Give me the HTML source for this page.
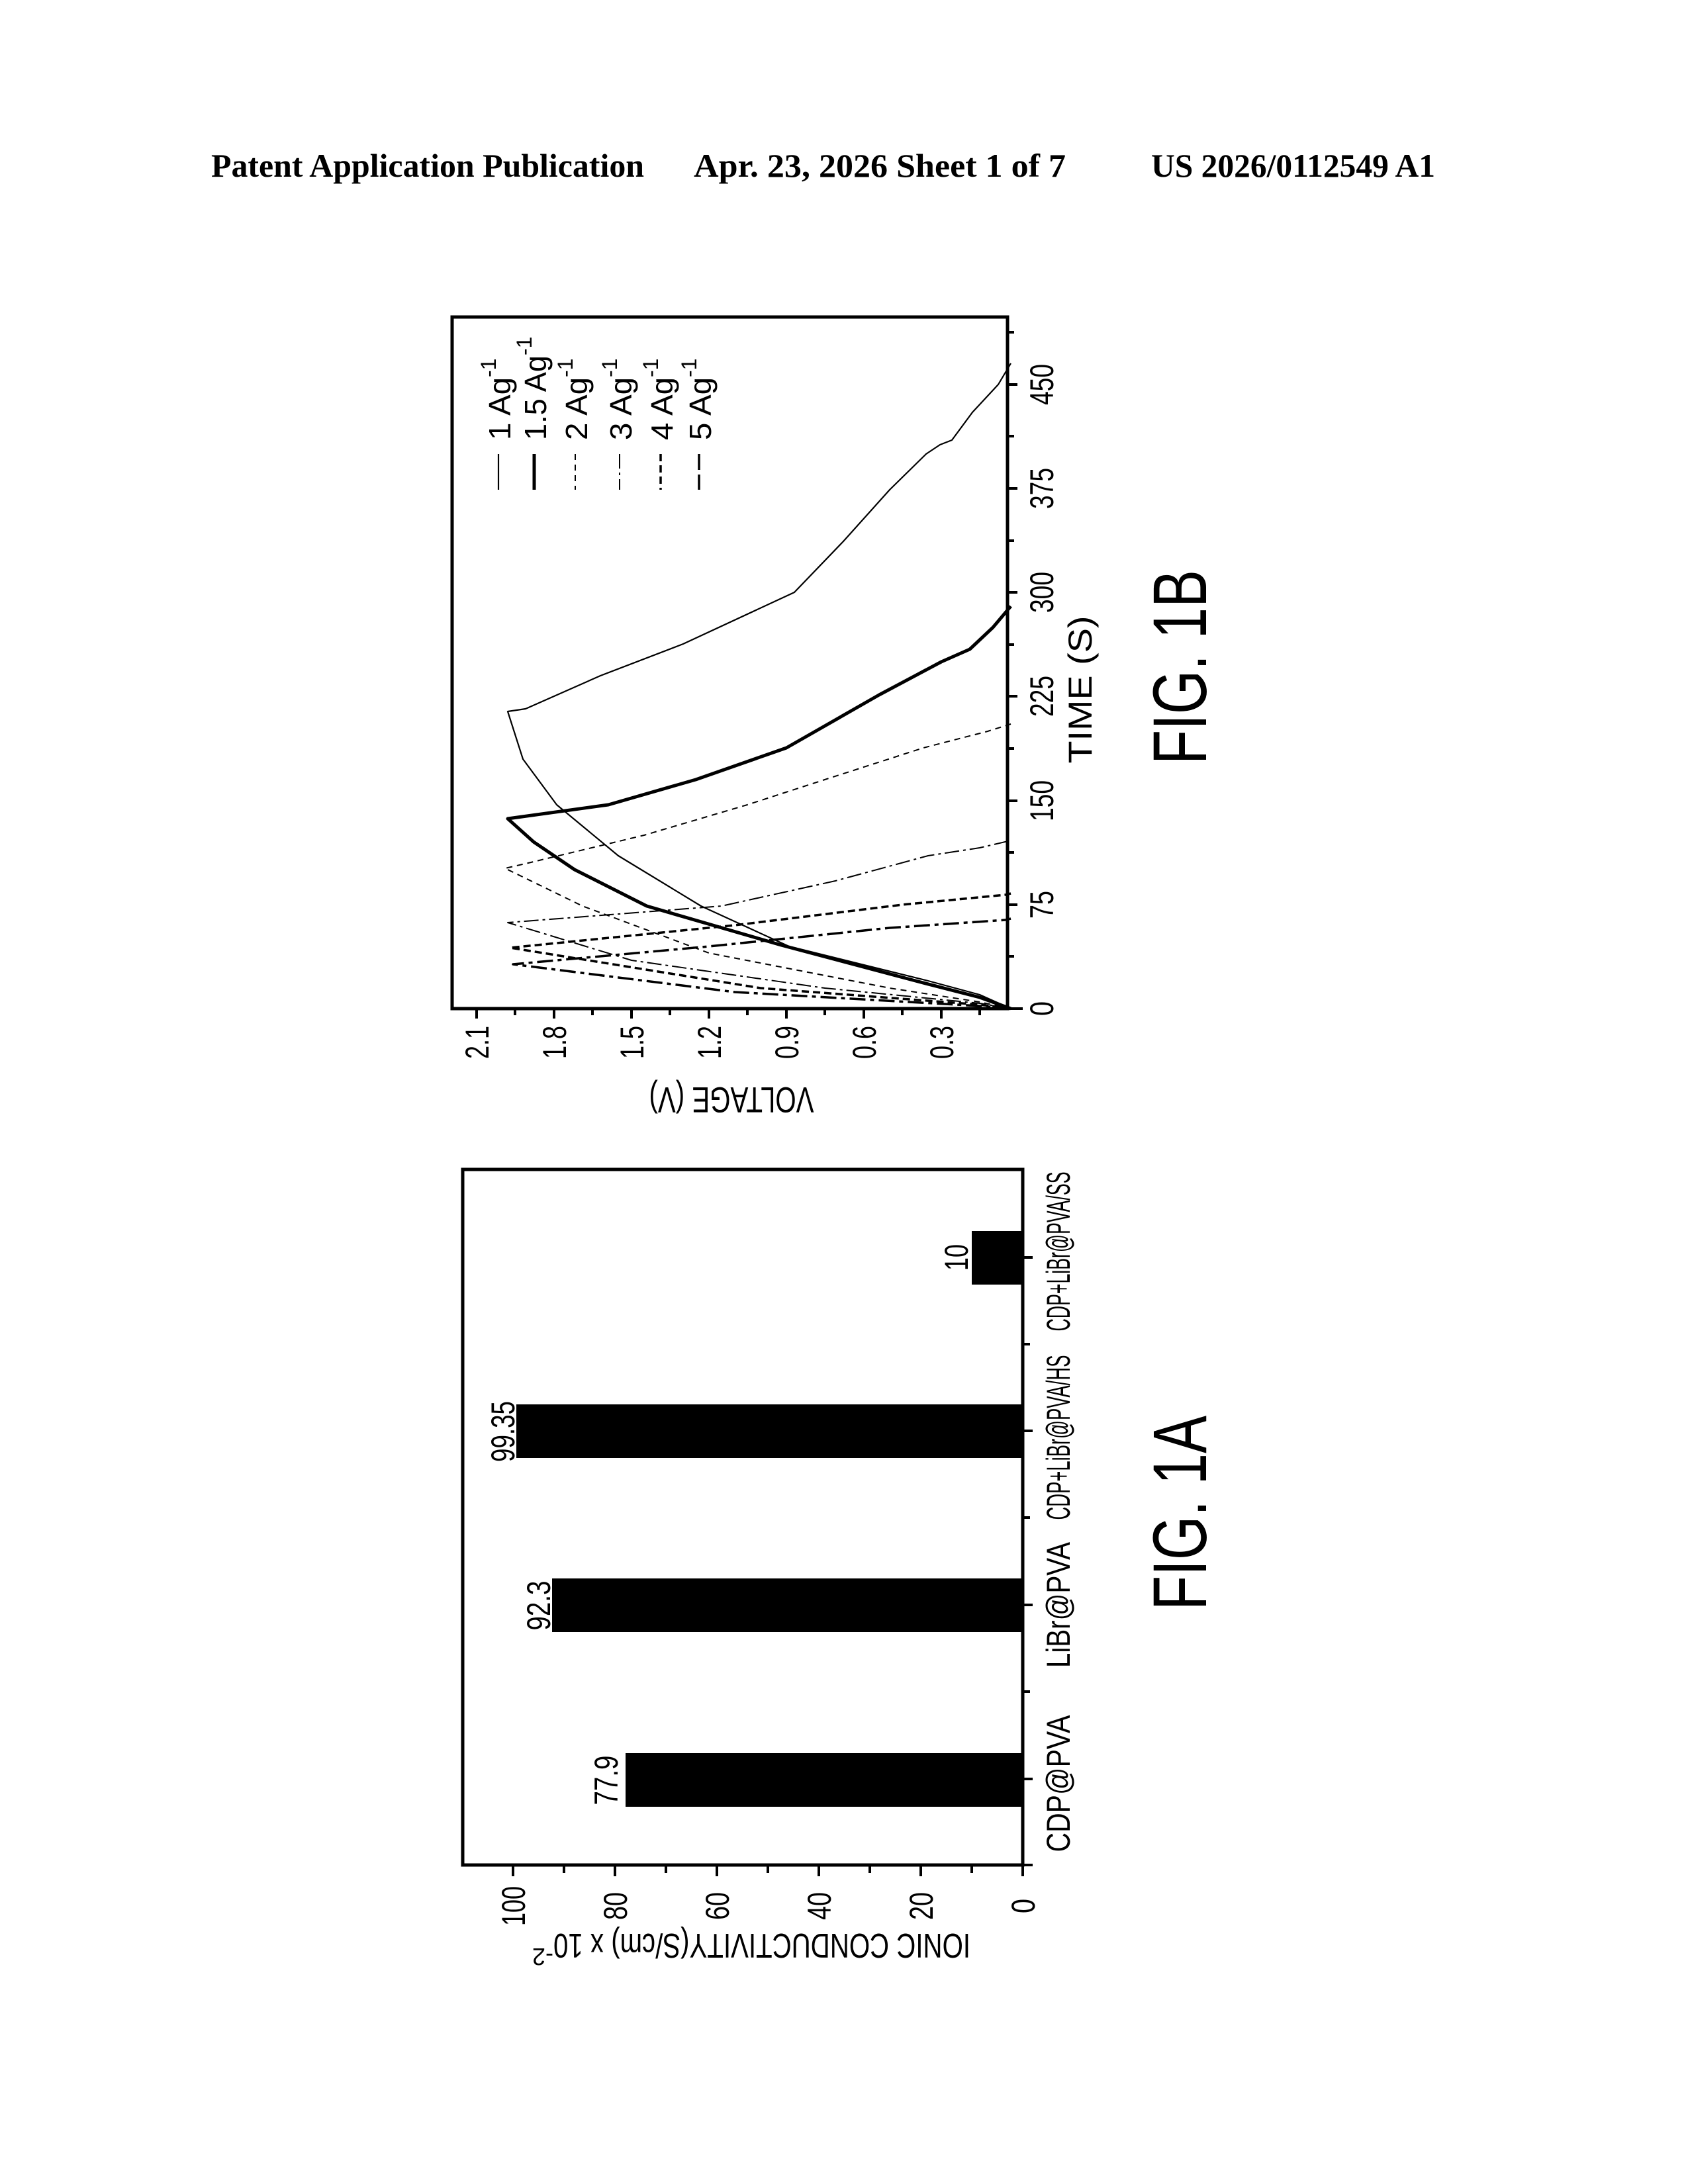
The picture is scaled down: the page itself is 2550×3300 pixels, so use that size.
<!DOCTYPE html>
<html><head><meta charset="utf-8"><style>
html,body{margin:0;padding:0;background:#fff;}
svg{display:block;}
text{font-family:"Liberation Sans",Arial,sans-serif;fill:#000;}
.hd{font-family:"Liberation Serif","Times New Roman",serif;font-weight:bold;font-size:50px;}
</style></head><body>
<svg width="2550" height="3300" viewBox="0 0 2550 3300" xmlns="http://www.w3.org/2000/svg">
<rect width="2550" height="3300" fill="#fff"/>
<!-- header -->
<text class="hd" x="319" y="267" textLength="654" lengthAdjust="spacingAndGlyphs">Patent Application Publication</text>
<text class="hd" x="1048" y="267" textLength="562" lengthAdjust="spacingAndGlyphs">Apr. 23, 2026  Sheet 1 of 7</text>
<text class="hd" x="1739" y="267" textLength="429" lengthAdjust="spacingAndGlyphs">US 2026/0112549 A1</text>

<!-- ================= FIG 1B ================= -->
<rect x="683" y="479" width="839" height="1045" fill="none" stroke="#000" stroke-width="5"/>
<g stroke="#000" stroke-width="4">
<!-- time ticks (major) -->
<line x1="1522" y1="1524" x2="1537" y2="1524"/>
<line x1="1522" y1="1367" x2="1537" y2="1367"/>
<line x1="1522" y1="1210" x2="1537" y2="1210"/>
<line x1="1522" y1="1052" x2="1537" y2="1052"/>
<line x1="1522" y1="895" x2="1537" y2="895"/>
<line x1="1522" y1="738" x2="1537" y2="738"/>
<line x1="1522" y1="581" x2="1537" y2="581"/>
<!-- minor -->
<line x1="1522" y1="1445" x2="1532" y2="1445"/>
<line x1="1522" y1="1288" x2="1532" y2="1288"/>
<line x1="1522" y1="1131" x2="1532" y2="1131"/>
<line x1="1522" y1="974" x2="1532" y2="974"/>
<line x1="1522" y1="817" x2="1532" y2="817"/>
<line x1="1522" y1="659" x2="1532" y2="659"/>
<line x1="1522" y1="502" x2="1532" y2="502"/>
<!-- voltage ticks major -->
<line x1="1422" y1="1524" x2="1422" y2="1539"/>
<line x1="1305" y1="1524" x2="1305" y2="1539"/>
<line x1="1188" y1="1524" x2="1188" y2="1539"/>
<line x1="1071" y1="1524" x2="1071" y2="1539"/>
<line x1="954" y1="1524" x2="954" y2="1539"/>
<line x1="837" y1="1524" x2="837" y2="1539"/>
<line x1="720" y1="1524" x2="720" y2="1539"/>
<!-- minor -->
<line x1="1480" y1="1524" x2="1480" y2="1534"/>
<line x1="1363" y1="1524" x2="1363" y2="1534"/>
<line x1="1246" y1="1524" x2="1246" y2="1534"/>
<line x1="1129" y1="1524" x2="1129" y2="1534"/>
<line x1="1012" y1="1524" x2="1012" y2="1534"/>
<line x1="895" y1="1524" x2="895" y2="1534"/>
<line x1="778" y1="1524" x2="778" y2="1534"/>
</g>
<line x1="1522" y1="1524" x2="1545" y2="1524" stroke="#000" stroke-width="4"/>
<g font-size="50" text-anchor="middle">
<text transform="translate(1591,1524) rotate(-90)" textLength="22" lengthAdjust="spacingAndGlyphs">0</text>
<text transform="translate(1591,1367) rotate(-90)" textLength="42" lengthAdjust="spacingAndGlyphs">75</text>
<text transform="translate(1591,1210) rotate(-90)" textLength="62" lengthAdjust="spacingAndGlyphs">150</text>
<text transform="translate(1591,1052) rotate(-90)" textLength="62" lengthAdjust="spacingAndGlyphs">225</text>
<text transform="translate(1591,895) rotate(-90)" textLength="62" lengthAdjust="spacingAndGlyphs">300</text>
<text transform="translate(1591,738) rotate(-90)" textLength="62" lengthAdjust="spacingAndGlyphs">375</text>
<text transform="translate(1591,581) rotate(-90)" textLength="62" lengthAdjust="spacingAndGlyphs">450</text>
<text transform="translate(1440,1575) rotate(-90)" textLength="50" lengthAdjust="spacingAndGlyphs">0.3</text>
<text transform="translate(1323,1575) rotate(-90)" textLength="50" lengthAdjust="spacingAndGlyphs">0.6</text>
<text transform="translate(1206,1575) rotate(-90)" textLength="50" lengthAdjust="spacingAndGlyphs">0.9</text>
<text transform="translate(1089,1575) rotate(-90)" textLength="50" lengthAdjust="spacingAndGlyphs">1.2</text>
<text transform="translate(972,1575) rotate(-90)" textLength="50" lengthAdjust="spacingAndGlyphs">1.5</text>
<text transform="translate(855,1575) rotate(-90)" textLength="50" lengthAdjust="spacingAndGlyphs">1.8</text>
<text transform="translate(738,1575) rotate(-90)" textLength="50" lengthAdjust="spacingAndGlyphs">2.1</text>
<text transform="translate(1649,1042) rotate(-90)" textLength="223" lengthAdjust="spacingAndGlyphs">TIME (S)</text>
<text transform="translate(1105,1643) rotate(180)" font-size="55" textLength="249" lengthAdjust="spacingAndGlyphs">VOLTAGE (V)</text>
<text transform="translate(1822,1008) rotate(-90)" font-size="115" textLength="294" lengthAdjust="spacingAndGlyphs">FIG. 1B</text>
</g>
<!-- curves -->
<g fill="none" stroke="#000" stroke-linejoin="round" stroke-linecap="butt">
<!-- 1 A/g -->
<polyline stroke-width="2.2" points="1527,1524 1480,1503 1402,1482 1192,1430 1059,1369 934,1293 841,1216 790,1147 767,1075 794,1071 907,1021 1032,973 1200,895 1274,818 1344,740 1399,686 1420,672 1438,665 1469,623 1508,581 1527,549"/>
<!-- 1.5 A/g -->
<polyline stroke-width="5" points="1527,1524 1480,1507 1383,1482 1180,1428 977,1369 868,1314 806,1272 767,1237 919,1216 1051,1178 1188,1130 1328,1050 1422,1000 1465,981 1500,948 1527,916"/>
<!-- 2 A/g -->
<polyline stroke-width="2" stroke-dasharray="9 7" points="1527,1524 1480,1514 1344,1493 1071,1440 880,1369 763,1312 798,1304 973,1262 1129,1216 1246,1178 1395,1130 1492,1105 1527,1094"/>
<!-- 3 A/g -->
<polyline stroke-width="2" stroke-dasharray="22 6 4 6" points="1527,1524 1480,1516 1246,1493 954,1451 767,1394 1090,1369 1262,1331 1402,1293 1480,1281 1527,1270"/>
<!-- 4 A/g -->
<polyline stroke-width="3.5" stroke-dasharray="11 6" points="1527,1524 1480,1518 1149,1493 771,1432 1110,1398 1363,1367 1519,1352 1527,1350"/>
<!-- 5 A/g -->
<polyline stroke-width="3.5" stroke-dasharray="24 7 6 7" points="1527,1524 1480,1520 1110,1499 775,1457 1071,1430 1344,1402 1519,1390 1527,1388"/>
</g>
<!-- legend -->
<g fill="none" stroke="#000">
<line x1="753" y1="686" x2="753" y2="740" stroke-width="2.2"/>
<line x1="807" y1="686" x2="807" y2="740" stroke-width="5"/>
<line x1="869" y1="686" x2="869" y2="740" stroke-width="2" stroke-dasharray="9 7"/>
<line x1="936" y1="686" x2="936" y2="740" stroke-width="2" stroke-dasharray="22 6 4 6"/>
<line x1="998" y1="686" x2="998" y2="740" stroke-width="3.5" stroke-dasharray="11 6"/>
<line x1="1056" y1="686" x2="1056" y2="740" stroke-width="3.5" stroke-dasharray="24 7"/>
</g>
<g font-size="46">
<text transform="translate(771,665) rotate(-90)"><tspan textLength="95" lengthAdjust="spacingAndGlyphs">1 Ag</tspan><tspan font-size="32" dy="-22">-1</tspan></text>
<text transform="translate(825,665) rotate(-90)"><tspan textLength="128" lengthAdjust="spacingAndGlyphs">1.5 Ag</tspan><tspan font-size="32" dy="-22">-1</tspan></text>
<text transform="translate(887,665) rotate(-90)"><tspan textLength="95" lengthAdjust="spacingAndGlyphs">2 Ag</tspan><tspan font-size="32" dy="-22">-1</tspan></text>
<text transform="translate(954,665) rotate(-90)"><tspan textLength="95" lengthAdjust="spacingAndGlyphs">3 Ag</tspan><tspan font-size="32" dy="-22">-1</tspan></text>
<text transform="translate(1016,665) rotate(-90)"><tspan textLength="95" lengthAdjust="spacingAndGlyphs">4 Ag</tspan><tspan font-size="32" dy="-22">-1</tspan></text>
<text transform="translate(1074,665) rotate(-90)"><tspan textLength="95" lengthAdjust="spacingAndGlyphs">5 Ag</tspan><tspan font-size="32" dy="-22">-1</tspan></text>
</g>

<!-- ================= FIG 1A ================= -->
<rect x="699" y="1767" width="846" height="1051" fill="none" stroke="#000" stroke-width="5"/>
<!-- bars -->
<rect x="945" y="2649" width="600" height="81" fill="#000"/>
<rect x="834" y="2385" width="711" height="81" fill="#000"/>
<rect x="780" y="2122" width="765" height="81" fill="#000"/>
<rect x="1468" y="1860" width="77" height="81" fill="#000"/>
<g stroke="#000" stroke-width="4">
<!-- value ticks -->
<line x1="1545" y1="2818" x2="1545" y2="2835"/>
<line x1="1391" y1="2818" x2="1391" y2="2835"/>
<line x1="1237" y1="2818" x2="1237" y2="2835"/>
<line x1="1083" y1="2818" x2="1083" y2="2835"/>
<line x1="929" y1="2818" x2="929" y2="2835"/>
<line x1="775" y1="2818" x2="775" y2="2835"/>
<line x1="1468" y1="2818" x2="1468" y2="2830"/>
<line x1="1314" y1="2818" x2="1314" y2="2830"/>
<line x1="1160" y1="2818" x2="1160" y2="2830"/>
<line x1="1006" y1="2818" x2="1006" y2="2830"/>
<line x1="852" y1="2818" x2="852" y2="2830"/>
<!-- category ticks -->
<line x1="1545" y1="2688" x2="1560" y2="2688"/>
<line x1="1545" y1="2425" x2="1560" y2="2425"/>
<line x1="1545" y1="2162" x2="1560" y2="2162"/>
<line x1="1545" y1="1900" x2="1560" y2="1900"/>
<line x1="1545" y1="2556" x2="1556" y2="2556"/>
<line x1="1545" y1="2293" x2="1556" y2="2293"/>
<line x1="1545" y1="2031" x2="1556" y2="2031"/>
</g>
<line x1="1545" y1="2818" x2="1560" y2="2818" stroke="#000" stroke-width="4"/>
<g font-size="50" text-anchor="middle">
<text transform="translate(1563,2880) rotate(-90)" textLength="22" lengthAdjust="spacingAndGlyphs">0</text>
<text transform="translate(1409,2880) rotate(-90)" textLength="42" lengthAdjust="spacingAndGlyphs">20</text>
<text transform="translate(1255,2880) rotate(-90)" textLength="42" lengthAdjust="spacingAndGlyphs">40</text>
<text transform="translate(1101,2880) rotate(-90)" textLength="42" lengthAdjust="spacingAndGlyphs">60</text>
<text transform="translate(947,2880) rotate(-90)" textLength="42" lengthAdjust="spacingAndGlyphs">80</text>
<text transform="translate(793,2880) rotate(-90)" textLength="60" lengthAdjust="spacingAndGlyphs">100</text>
<!-- bar values -->
<text transform="translate(933,2690) rotate(-90)" textLength="75" lengthAdjust="spacingAndGlyphs">77.9</text>
<text transform="translate(831,2426) rotate(-90)" textLength="75" lengthAdjust="spacingAndGlyphs">92.3</text>
<text transform="translate(777,2163) rotate(-90)" textLength="92" lengthAdjust="spacingAndGlyphs">99.35</text>
<text transform="translate(1462,1900) rotate(-90)" textLength="40" lengthAdjust="spacingAndGlyphs">10</text>
<!-- categories -->
<text transform="translate(1616,2695) rotate(-90)" textLength="207" lengthAdjust="spacingAndGlyphs">CDP@PVA</text>
<text transform="translate(1616,2425) rotate(-90)" textLength="190" lengthAdjust="spacingAndGlyphs">LiBr@PVA</text>
<text transform="translate(1616,2172) rotate(-90)" textLength="249" lengthAdjust="spacingAndGlyphs">CDP+LiBr@PVA/HS</text>
<text transform="translate(1616,1891) rotate(-90)" textLength="241" lengthAdjust="spacingAndGlyphs">CDP+LiBr@PVA/SS</text>
<text transform="translate(1822,2286) rotate(-90)" font-size="115" textLength="294" lengthAdjust="spacingAndGlyphs">FIG. 1A</text>
</g>
<text transform="translate(1466,2922) rotate(180)" font-size="52"><tspan textLength="630" lengthAdjust="spacingAndGlyphs">IONIC CONDUCTIVITY(S/cm) x 10</tspan><tspan font-size="36" dy="-22">-2</tspan></text>
</svg>
</body></html>
